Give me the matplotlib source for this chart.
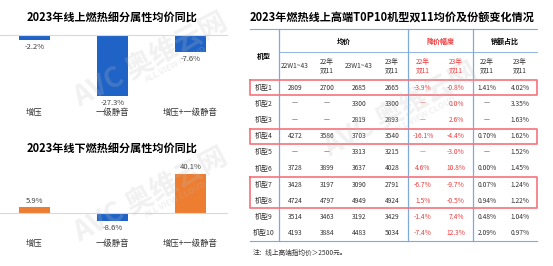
import matplotlib
matplotlib.use("Agg")
import matplotlib.pyplot as plt

plt.rcParams["font.family"] = ["Noto Sans CJK SC", "DejaVu Sans"]

# ---- data ----
categories = ["增压", "一级静音", "增压+一级静音"]
online_yoy = [-2.2, -27.3, -7.6]
offline_yoy = [5.9, -8.6, 40.1]

models = ["机型1", "机型2", "机型3", "机型4", "机型5",
          "机型6", "机型7", "机型8", "机型9", "机型10"]
price_22w = ["2809", "—", "—", "4272", "—", "3728", "3428", "4724", "3514", "4193"]
price_22d11 = ["2700", "—", "—", "3586", "—", "3899", "3197", "4797", "3463", "3884"]
price_23w = ["2685", "3300", "2819", "3703", "3313", "3637", "3090", "4949", "3192", "4483"]
price_23d11 = ["2665", "3300", "2893", "3540", "3215", "4028", "2791", "4924", "3429", "5034"]
drop_22 = ["-3.9%", "—", "—", "-16.1%", "—", "4.6%", "-6.7%", "1.5%", "-1.4%", "-7.4%"]
drop_23 = ["-0.8%", "0.0%", "2.6%", "-4.4%", "-3.0%", "10.8%", "-9.7%", "-0.5%", "7.4%", "12.3%"]
share_22 = ["1.41%", "—", "—", "0.70%", "—", "0.00%", "0.07%", "0.94%", "0.48%", "2.09%"]
share_23 = ["4.02%", "3.35%", "1.63%", "1.62%", "1.52%", "1.45%", "1.24%", "1.22%", "1.04%", "0.97%"]
sub_heads = ["22W1~43", "22年\n双11", "23W1~43", "23年\n双11",
             "22年\n双11", "23年\n双11", "22年\n双11", "23年\n双11"]
highlight_rows = [(0, 0), (3, 3), (6, 7)]

BLUE = "#1f63c6"
ORANGE = "#ed7d31"
RED = "#ee3b3b"
LINE_BLUE = "#7fa9dc"

W, H = 553, 266
fig = plt.figure(figsize=(W / 100, H / 100), dpi=100)


def px_axes(x0, y0, x1, y1):
    return fig.add_axes([x0 / W, 1 - y1 / H, (x1 - x0) / W, (y1 - y0) / H])


def bar_panel(ax, vals, ylim, label_y):
    colors = [ORANGE if v > 0 else BLUE for v in vals]
    bars = ax.bar(range(len(vals)), vals, width=0.4, color=colors)
    ax.bar_label(bars, labels=[f"{v:.1f}%" for v in vals], padding=2,
                 fontsize=5.5, color="#404040")
    ax.axhline(0, color="#d9d9d9", lw=0.8)
    ax.set_xlim(-0.44, 2.48)
    ax.set_ylim(*ylim)
    ax.axis("off")
    for i, c in enumerate(categories):
        ax.text(i, label_y, c, transform=ax.get_xaxis_transform(),
                ha="center", va="center", fontsize=6, color="#333333")


ax1 = px_axes(0, 25, 228, 125)
bar_panel(ax1, online_yoy, (-40.4, 4.5), 0.13)
ax2 = px_axes(0, 160, 228, 250)
bar_panel(ax2, offline_yoy, (-38.1, 54.6), 0.078)

# overlay in pixel coords for titles + table
ov = fig.add_axes([0, 0, 1, 1])
ov.set_xlim(0, W)
ov.set_ylim(H, 0)
ov.axis("off")

ov.text(112, 17, "2023年线上燃热细分属性均价同比", ha="center", va="center",
        fontsize=8, fontweight="bold")
ov.text(112, 148, "2023年线下燃热细分属性均价同比", ha="center", va="center",
        fontsize=8, fontweight="bold")
ov.text(392, 17, "2023年燃热线上高端T0P10机型双11均价及份额变化情况",
        ha="center", va="center", fontsize=8, fontweight="bold")

# table
left, right, top, bottom = 250, 537, 29, 241
vlines = [279, 408, 473]
col_x = [295, 327, 359, 392, 423, 456, 487, 520]
row_y = [87.5 + i * 16.2 for i in range(len(models))]

ov.plot([left, right], [top, top], color=LINE_BLUE, lw=0.8)
ov.plot([vlines[0], right], [52, 52], color=LINE_BLUE, lw=0.6)
ov.plot([left, right], [bottom, bottom], color=LINE_BLUE, lw=0.8)
for x in vlines:
    ov.plot([x, x], [top, bottom], color=LINE_BLUE, lw=0.9)

ov.text(264, 56, "机型", ha="center", va="center", fontsize=5, fontweight="bold")
ov.text(343.5, 41, "均价", ha="center", va="center", fontsize=5, fontweight="bold")
ov.text(440.5, 41, "降价幅度", ha="center", va="center", fontsize=5,
        fontweight="bold", color=RED)
ov.text(505, 41, "销额占比", ha="center", va="center", fontsize=5, fontweight="bold")
for i, (x, s) in enumerate(zip(col_x, sub_heads)):
    ov.text(x, 66, s, ha="center", va="center", fontsize=4.8, linespacing=1.1,
            color=RED if i in (4, 5) else "#333333")

columns = [price_22w, price_22d11, price_23w, price_23d11,
           drop_22, drop_23, share_22, share_23]
for r, (name, y) in enumerate(zip(models, row_y)):
    ov.text(264, y, name, ha="center", va="center", fontsize=5, color="#333333")
    for c, (x, col) in enumerate(zip(col_x, columns)):
        ov.text(x, y, col[r], ha="center", va="center", fontsize=4.8,
                color=RED if c in (4, 5) else "#333333")

for r0, r1 in highlight_rows:
    y0 = row_y[r0] - 7.5
    y1 = row_y[r1] + 7.5
    ov.plot([left, right, right, left, left], [y0, y0, y1, y1, y0],
            color="#f4737b", lw=1.2)

ov.text(253, 253, "注：线上高端指均价＞2500元。", ha="left", va="center",
        fontsize=4.8, color="#333333")

# watermark
for (x, y) in [(150, 60), (150, 195), (400, 110)]:
    ov.text(x, y, "AVC 奥维云网", ha="center", va="center", fontsize=20,
            fontweight="bold", fontstyle="italic", color="#bfbfbf", alpha=0.22,
            rotation=28)
    ov.text(x + 25, y + 5, "ALL VIEW CLOUD", ha="center", va="center", fontsize=6,
            fontweight="bold", color="#bfbfbf", alpha=0.22, rotation=28)

fig.savefig("out.png", dpi=100)
